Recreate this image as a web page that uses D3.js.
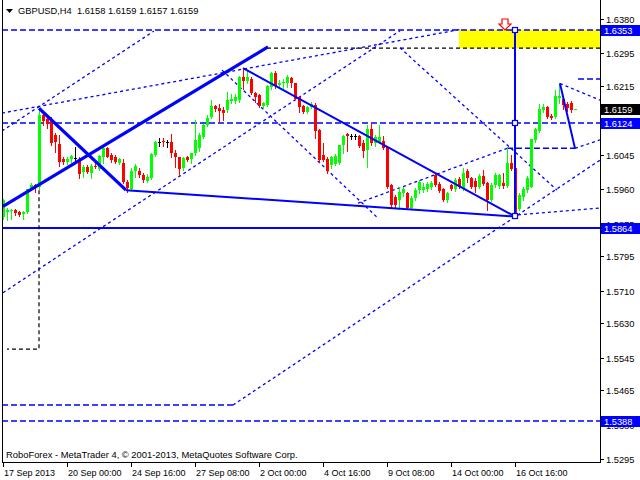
<!DOCTYPE html>
<html><head><meta charset="utf-8">
<script src="https://cdn.jsdelivr.net/npm/d3@7"></script>
<style>body{margin:0;background:#fff}svg{display:block}text{font-family:Tahoma,"Liberation Sans",Arial,sans-serif}</style>
</head><body>
<script>
// ---- data (GBPUSD H4) ----
const symbol = "GBPUSD,H4";
const lastQuote = ["1.6158","1.6159","1.6157","1.6159"];
const opens = [1.5892,1.5904,1.5906,1.5909,1.5904,1.5898,1.5904,1.5961,1.5970,1.5965,
1.6143,1.6133,1.6133,1.6094,1.6071,1.6035,1.6028,1.6035,1.6038,1.6036,
1.6003,1.6014,1.6001,1.6017,1.6011,1.6040,1.6061,1.6044,1.6040,1.6026,
1.6026,1.5979,1.5961,1.6004,1.6005,1.5995,1.5981,1.5987,1.6045,1.6077,
1.6080,1.6077,1.6077,1.6050,1.6039,1.6012,1.6040,1.6036,1.6049,1.6062,
1.6090,1.6119,1.6138,1.6165,1.6160,1.6155,1.6156,1.6178,1.6179,1.6180,
1.6238,1.6228,1.6231,1.6198,1.6192,1.6165,1.6168,1.6212,1.6246,1.6217,
1.6221,1.6221,1.6234,1.6221,1.6188,1.6165,1.6151,1.6162,1.6168,1.6106,
1.6044,1.6034,1.6020,1.6022,1.6024,1.6069,1.6096,1.6092,1.6092,1.6092,
1.6073,1.6057,1.6109,1.6073,1.6077,1.6078,1.6064,1.5971,1.5942,1.5934,
1.5950,1.5950,1.5913,1.5938,1.5958,1.5958,1.5962,1.5966,1.5995,1.5973,
1.5961,1.5934,1.5971,1.5960,1.5985,1.5963,1.6004,1.5987,1.5981,1.5965,
1.5993,1.5976,1.5934,1.5971,1.5967,1.5975,1.5967,1.6026,1.6012,1.5912,
1.5942,1.5958,1.5966,1.6081,1.6104,1.6156,1.6162,1.6140,1.6138,1.6185,
1.6182,1.6170,1.6173,1.6158];
const highs = [1.5936,1.5914,1.5912,1.5912,1.5907,1.5907,1.5962,1.5975,1.5972,1.6160,
1.6149,1.6139,1.6139,1.6099,1.6094,1.6040,1.6040,1.6044,1.6065,1.6040,
1.6020,1.6020,1.6022,1.6025,1.6044,1.6067,1.6065,1.6049,1.6044,1.6037,
1.6036,1.5983,1.6012,1.6022,1.6012,1.6001,1.5999,1.6049,1.6080,1.6086,
1.6086,1.6082,1.6096,1.6057,1.6040,1.6040,1.6042,1.6050,1.6131,1.6098,
1.6121,1.6144,1.6180,1.6167,1.6170,1.6163,1.6201,1.6194,1.6196,1.6240,
1.6259,1.6254,1.6236,1.6201,1.6196,1.6175,1.6218,1.6249,1.6251,1.6229,
1.6232,1.6241,1.6237,1.6223,1.6190,1.6168,1.6165,1.6176,1.6172,1.6108,
1.6073,1.6040,1.6042,1.6047,1.6070,1.6094,1.6098,1.6096,1.6096,1.6094,
1.6082,1.6119,1.6123,1.6094,1.6119,1.6091,1.6066,1.5973,1.5946,1.5965,
1.5966,1.5954,1.5943,1.5963,1.5983,1.5976,1.5978,1.5981,1.6001,1.5977,
1.5963,1.5954,1.5973,1.5987,1.5990,1.6012,1.6010,1.5990,1.5987,1.5998,
1.6008,1.5979,1.5976,1.6000,1.5998,1.6000,1.6061,1.6045,1.6045,1.5950,
1.5965,1.5993,1.6085,1.6111,1.6170,1.6170,1.6165,1.6145,1.6204,1.6223,
1.6187,1.6175,1.6177,1.6159];
const lows = [1.5887,1.5884,1.5887,1.5897,1.5894,1.5887,1.5902,1.5958,1.5953,1.5960,
1.6119,1.6111,1.6069,1.6052,1.6017,1.6022,1.6022,1.6028,1.6032,1.5987,
1.5990,1.6000,1.5987,1.6012,1.6008,1.6024,1.6039,1.6028,1.6026,1.6023,
1.5975,1.5954,1.5958,1.5990,1.5991,1.5979,1.5979,1.5985,1.6042,1.6067,
1.6067,1.6065,1.6040,1.6016,1.5995,1.6008,1.6030,1.6026,1.6045,1.6055,
1.6086,1.6117,1.6137,1.6153,1.6127,1.6130,1.6151,1.6172,1.6172,1.6176,
1.6207,1.6221,1.6196,1.6176,1.6162,1.6160,1.6166,1.6207,1.6209,1.6209,
1.6211,1.6212,1.6212,1.6182,1.6151,1.6147,1.6149,1.6160,1.6086,1.6028,
1.6031,1.6001,1.6012,1.6020,1.6022,1.6049,1.6055,1.6083,1.6083,1.6064,
1.6039,1.6016,1.6069,1.6066,1.6073,1.6059,1.5963,1.5914,1.5917,1.5911,
1.5943,1.5911,1.5911,1.5934,1.5950,1.5953,1.5957,1.5962,1.5968,1.5953,
1.5932,1.5929,1.5958,1.5957,1.5963,1.5958,1.5979,1.5963,1.5954,1.5963,
1.5971,1.5909,1.5930,1.5966,1.5963,1.5963,1.5965,1.6007,1.5893,1.5908,
1.5934,1.5954,1.5965,1.6077,1.6102,1.6150,1.6137,1.6133,1.6136,1.6173,
1.6158,1.6154,1.6150,1.6157];
const closes = [1.5934,1.5909,1.5909,1.5902,1.5897,1.5905,1.5960,1.5970,1.5965,1.6143,
1.6129,1.6121,1.6073,1.6077,1.6028,1.6027,1.6036,1.6041,1.6038,1.5999,
1.6014,1.6003,1.6017,1.6014,1.6042,1.6061,1.6040,1.6032,1.6027,1.6034,
1.5979,1.5963,1.6005,1.6017,1.5995,1.5983,1.5991,1.6047,1.6077,1.6077,
1.6076,1.6077,1.6049,1.6039,1.6010,1.6038,1.6032,1.6049,1.6082,1.6094,
1.6119,1.6137,1.6165,1.6157,1.6154,1.6149,1.6180,1.6183,1.6188,1.6238,
1.6228,1.6236,1.6197,1.6188,1.6165,1.6172,1.6215,1.6246,1.6215,1.6223,
1.6225,1.6236,1.6221,1.6182,1.6164,1.6151,1.6162,1.6170,1.6104,1.6032,
1.6032,1.6006,1.6039,1.6042,1.6069,1.6092,1.6092,1.6092,1.6092,1.6067,
1.6055,1.6109,1.6073,1.6090,1.6090,1.6061,1.5966,1.5921,1.5921,1.5954,
1.5962,1.5913,1.5938,1.5958,1.5979,1.5966,1.5972,1.5976,1.5971,1.5957,
1.5934,1.5950,1.5960,1.5983,1.5966,1.6000,1.5987,1.5966,1.5965,1.5993,
1.5973,1.5934,1.5971,1.5995,1.5995,1.5967,1.6026,1.6009,1.5900,1.5946,
1.5960,1.5987,1.6083,1.6108,1.6157,1.6162,1.6139,1.6136,1.6190,1.6190,
1.6168,1.6161,1.6156,1.6159];
const timeLabels = ["17 Sep 2013","20 Sep 00:00","24 Sep 16:00","27 Sep 08:00","2 Oct 00:00","4 Oct 16:00","9 Oct 08:00","14 Oct 00:00","16 Oct 16:00"];
const timeLabelBars = [0,16,32,48,64,80,96,112,128];
const priceTicks = [1.6380,1.6295,1.6215,1.6130,1.6045,1.5960,1.5875,1.5795,1.5710,1.5630,1.5545,1.5465,1.5380,1.5295];
const levelBoxes = [1.6353,1.6124,1.5864,1.5388]; // blue labels
const bidPrice = 1.6159;
const copyright = "RoboForex - MetaTrader 4, © 2001-2013, MetaQuotes Software Corp.";
// drawn objects: [barIndex, price] pairs
const thickLines = [
  [[0,1.5918],[66.25,1.6311]],
  [[9,1.6160],[30.75,1.5958]]
];
const solidLines = [
  [[30.75,1.5958],[128,1.5893]],
  [[60,1.6259],[128,1.5893]],
  [[128,1.5893],[128,1.6353]],
  [[139.25,1.6221],[143,1.6061]]
];
const dottedLines = [
  [[0,1.5705],[99.25,1.6351]],
  [[-0.25,1.6104],[37.7,1.6350]],
  [[-0.25,1.6148],[114.25,1.6354]],
  [[99.25,1.6309],[138.5,1.5958]],
  [[54.75,1.6254],[93.75,1.5889]],
  [[88.75,1.5926],[126,1.6061]],
  [[57.5,1.5428],[149.25,1.6032]],
  [[139.25,1.6221],[149.25,1.6180]],
  [[143,1.6061],[149.25,1.6082]],
  [[128.75,1.5897],[149.25,1.5914]]
];
const dashedSegments = [
  [[-0.25,1.5428],[57.5,1.5428]],
  [[126,1.6061],[143,1.6061]],
  [[143.75,1.6232],[149.25,1.6232]]
];
const fullLevels = [{p:1.6353,dash:true},{p:1.6124,dash:true},{p:1.5864,dash:false},{p:1.5388,dash:true}];
const targetZone = {x0:114, top:1.6353, bottom:1.6308};
const blackDashedPath = [[66,1.6308],[149.25,1.6308]];
const blackDashedElbow = [[9,1.5958],[9,1.5566],[1,1.5566]];
const markers = [[128,1.5893],[128,1.6124],[128,1.6353]];
const arrowAt = [125.5,1.6380];

// ---- chart ----
const W=640,H=480, L=2, R=600, T=0, B=462;
const BLUE="#0000ff";
const svg=d3.select("body").append("svg").attr("width",W).attr("height",H);
const x=d3.scaleLinear().domain([0,149.25]).range([3,600]);
const y=d3.scaleLinear().domain([1.5295,1.6380]).range([459,19]);
svg.append("defs").append("clipPath").attr("id","pc").append("rect").attr("x",L).attr("y",T).attr("width",R-L).attr("height",B-T);
const g=svg.append("g").attr("clip-path","url(#pc)");
const line=d3.line().x(d=>x(d[0])).y(d=>y(d[1]));

g.append("rect").attr("x",x(targetZone.x0)).attr("y",y(targetZone.top)).attr("width",R-x(targetZone.x0)).attr("height",y(targetZone.bottom)-y(targetZone.top)).attr("fill","#ffff00");
fullLevels.forEach(l=>{
  g.append("line").attr("x1",L).attr("x2",R).attr("y1",Math.round(y(l.p))).attr("y2",Math.round(y(l.p)))
   .attr("stroke",BLUE).attr("stroke-width",l.dash?1.5:2).attr("stroke-dasharray",l.dash?"6,3":null);
});
g.append("path").attr("d",line(blackDashedPath)).attr("fill","none").attr("stroke","#000").attr("stroke-width",1.2).attr("stroke-dasharray","4,3");
g.append("path").attr("d",line(blackDashedElbow)).attr("fill","none").attr("stroke","#000").attr("stroke-width",1.2).attr("stroke-dasharray","4,3");
dottedLines.forEach(l=>g.append("path").attr("d",line(l)).attr("fill","none").attr("stroke",BLUE).attr("stroke-width",1.3).attr("stroke-dasharray","3,3"));
dashedSegments.forEach(l=>g.append("path").attr("d",line(l)).attr("fill","none").attr("stroke",BLUE).attr("stroke-width",1.5).attr("stroke-dasharray","6,3"));

// candles
const bars=d3.range(opens.length).map(i=>({i,o:opens[i],h:highs[i],l:lows[i],c:closes[i]}));
const col=d=>d.c>d.o?"#00ff00":(d.c<d.o?"#ff0000":"#000000");
const cg=g.append("g").attr("shape-rendering","crispEdges");
cg.selectAll("line.w").data(bars).join("line").attr("class","w")
  .attr("x1",d=>Math.round(x(d.i))+0.5).attr("x2",d=>Math.round(x(d.i))+0.5)
  .attr("y1",d=>Math.round(y(d.h))).attr("y2",d=>Math.round(y(d.l))+1).attr("stroke",col);
cg.selectAll("rect.b").data(bars).join("rect").attr("class","b")
  .attr("x",d=>Math.round(x(d.i))-1).attr("width",3)
  .attr("y",d=>Math.round(y(Math.max(d.o,d.c))))
  .attr("height",d=>Math.max(1,Math.round(y(Math.min(d.o,d.c)))-Math.round(y(Math.max(d.o,d.c)))))
  .attr("fill",col);

solidLines.forEach(l=>g.append("path").attr("d",line(l)).attr("fill","none").attr("stroke",BLUE).attr("stroke-width",2));
thickLines.forEach(l=>g.append("path").attr("d",line(l)).attr("fill","none").attr("stroke",BLUE).attr("stroke-width",3.2));
markers.forEach(m=>g.append("rect").attr("x",Math.round(x(m[0]))-2.5).attr("y",Math.round(y(m[1]))-2.5).attr("width",5).attr("height",5).attr("fill","#fff").attr("stroke",BLUE).attr("stroke-width",1.2));
{
  const ax=x(arrowAt[0]), ay=y(arrowAt[1]);
  const p=[[ax-3,ay],[ax+3,ay],[ax+3,ay+5],[ax+6,ay+5],[ax,ay+11],[ax-6,ay+5],[ax-3,ay+5]];
  g.append("path").attr("d","M"+p.join("L")+"Z").attr("fill","#fff").attr("stroke","#ff0000").attr("stroke-width",1.2);
}

// frame
svg.append("line").attr("x1",L+0.5).attr("x2",L+0.5).attr("y1",0).attr("y2",B+0.5).attr("stroke","#000");
svg.append("line").attr("x1",R+0.5).attr("x2",R+0.5).attr("y1",0).attr("y2",B+0.5).attr("stroke","#000");
svg.append("line").attr("x1",L).attr("x2",R+1).attr("y1",B+0.5).attr("y2",B+0.5).attr("stroke","#000");

// right axis
const ax=svg.append("g");
const PF=9.3;
priceTicks.forEach(p=>{
  const yy=Math.round(y(p));
  ax.append("line").attr("x1",601).attr("x2",604).attr("y1",yy+0.5).attr("y2",yy+0.5).attr("stroke","#000");
  ax.append("text").attr("x",606).attr("y",yy+4).attr("font-size",PF).attr("fill","#000").text(p.toFixed(4));
});
function box(p,bg){
  const yy=Math.round(y(p));
  ax.append("rect").attr("x",601).attr("y",yy-5).attr("width",39).attr("height",11).attr("fill",bg);
  ax.append("text").attr("x",604).attr("y",yy+4).attr("font-size",PF).attr("fill","#fff").text(p.toFixed(4));
}
levelBoxes.forEach(p=>box(p,BLUE));
box(bidPrice,"#000");

// time axis
timeLabelBars.forEach((b,k)=>{
  const xx=Math.round(x(b));
  svg.append("line").attr("x1",xx+0.5).attr("x2",xx+0.5).attr("y1",462).attr("y2",467).attr("stroke","#000");
  svg.append("text").attr("x",xx+1).attr("y",476).attr("font-size",9).text(timeLabels[k]);
});
svg.append("path").attr("d","M6,9L13,9L9.5,13Z").attr("fill","#000");
svg.append("text").attr("x",18).attr("y",14).attr("font-size",9.3).attr("xml:space","preserve").text(symbol+"  "+lastQuote.join(" "));
svg.append("text").attr("x",6).attr("y",458).attr("font-size",9.4).text(copyright);
</script>
</body></html>
